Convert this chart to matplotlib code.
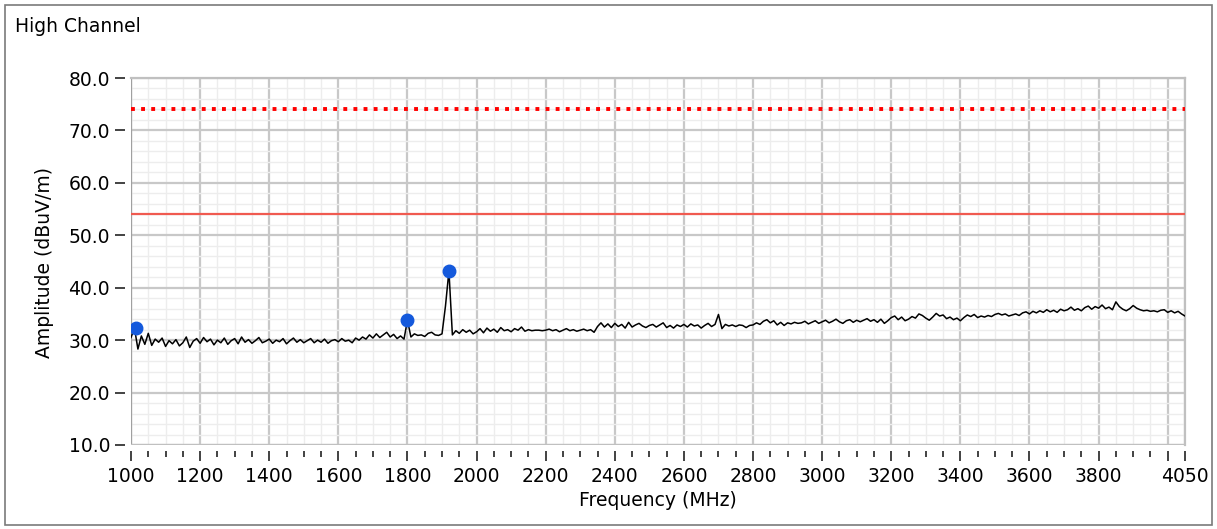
import numpy as np
import matplotlib
matplotlib.use('Agg')
import matplotlib.pyplot as plt
from matplotlib.patches import Rectangle
from matplotlib.ticker import MultipleLocator

# datos (paso de 10 MHz desde 1000 MHz)
freq_start = 1000
freq_step = 10
amp = [
    30.5, 32.3, 28.3, 30.8, 29.2, 31.3, 29.0, 30.2, 29.6, 30.4,
    28.8, 29.9, 29.3, 30.1, 28.9, 29.5, 30.6, 28.6, 29.8, 30.3,
    29.4, 30.5, 29.7, 30.2, 29.1, 30.0, 29.5, 30.4, 29.2, 29.9,
    30.3, 29.3, 30.6, 29.6, 30.1, 29.4, 29.9, 30.5, 29.5, 29.8,
    30.2, 29.4, 30.0, 29.7, 30.3, 29.3, 29.9, 30.4, 29.6, 30.1,
    29.5, 29.9, 30.3, 29.5, 30.0, 29.6, 30.2, 29.4, 29.9, 30.1,
    29.7, 30.3, 29.8, 30.0, 29.5, 30.4, 30.0, 30.6, 30.2, 31.0,
    30.4, 31.2, 30.5, 31.0, 31.5, 30.6, 31.1, 30.3, 30.8, 30.2,
    33.8, 30.6, 31.2, 30.9, 31.0, 30.7, 31.3, 31.5, 31.0, 30.9,
    31.2, 36.5, 43.2, 31.0, 31.8, 31.3, 32.0, 31.5, 31.9, 31.2,
    31.6, 32.2, 31.4, 32.3, 31.7, 32.1, 31.5, 32.4, 31.8, 32.0,
    31.6, 32.2, 31.9, 32.5, 31.7, 32.0, 31.8, 31.9, 31.9, 31.8,
    31.9, 32.1, 31.8, 32.0, 31.6, 31.9, 32.2, 31.8, 32.0, 31.7,
    31.9, 32.1, 31.8, 32.0, 31.5, 32.6, 33.3, 32.5, 33.1, 32.4,
    33.2, 32.6, 33.0, 32.3, 33.4, 32.5, 32.9, 33.2, 32.7, 32.4,
    32.8, 33.0, 32.5, 32.9, 33.3, 32.4, 32.8, 32.3, 32.9, 32.6,
    33.0, 32.5, 33.1, 32.7, 32.9, 32.3, 32.8, 33.2, 32.6, 33.0,
    34.9, 32.2, 33.0, 32.7, 32.9, 32.6, 32.9, 32.8, 32.4, 32.8,
    32.9, 33.3, 33.0, 33.6, 33.9, 33.3, 33.7, 32.9, 33.4, 32.8,
    33.3, 33.1, 33.4, 33.2, 33.3, 33.6, 33.1, 33.4, 33.7, 33.2,
    33.5, 33.8, 33.3, 33.6, 34.0, 33.5, 33.2, 33.7, 33.9, 33.4,
    33.8, 33.5, 33.8, 34.1, 33.6, 33.9, 33.4, 34.0, 33.2, 33.7,
    34.3, 34.6, 33.9, 34.4, 33.7, 34.0, 34.5, 34.2, 35.0, 34.7,
    34.2, 33.8, 34.4, 35.1, 34.6, 34.8, 34.1, 34.4, 33.9, 34.2,
    33.7, 34.3, 34.8, 34.5, 34.9, 34.3, 34.6, 34.4, 34.7, 34.5,
    34.9, 35.1, 34.8, 35.0, 34.6, 34.8, 35.0, 34.7, 35.2, 35.4,
    35.0, 35.5, 35.2, 35.6, 35.3, 35.8, 35.4, 35.7, 35.3, 35.9,
    35.6, 35.8, 36.3, 35.7, 36.0, 35.6, 36.2, 36.5, 35.9, 36.4,
    36.1, 36.7, 36.0, 36.3, 35.8, 37.3, 36.4, 35.9, 35.6, 36.0,
    36.6, 36.1, 35.8, 35.6, 35.7, 35.5, 35.6, 35.4, 35.7, 35.8,
    35.3, 35.6, 35.2, 35.5, 35.0, 34.6,
]
freq = freq_start + freq_step * np.arange(len(amp))

peak_freq = [1015, 1800, 1920]
peak_amp = [32.3, 33.8, 43.2]

limite_pico = 74.0
limite_medio = 54.0

xticks = [1000, 1200, 1400, 1600, 1800, 2000, 2200, 2400, 2600, 2800,
          3000, 3200, 3400, 3600, 3800, 4000, 4050]
xticklabels = ['1000', '1200', '1400', '1600', '1800', '2000', '2200', '2400',
               '2600', '2800', '3000', '3200', '3400', '3600', '3800', '', '4050']
yticks = [10, 20, 30, 40, 50, 60, 70, 80]

fs = 13.5
W, H = 1217, 529
fig = plt.figure(figsize=(W / 100, H / 100), dpi=100)
fig.patch.set_facecolor('white')
# marco exterior
fig.patches.append(Rectangle((5 / W, 4 / H), (1212 - 5) / W, (524 - 4) / H,
                             transform=fig.transFigure, fill=False,
                             edgecolor='#7a7a7a', lw=1.2))
fig.text(15 / W, 1 - 27 / H, 'High Channel', fontsize=fs, va='center', ha='left')

ax = fig.add_axes([131 / W, 1 - 445 / H, (1185 - 131) / W, (445 - 78) / H])
ax.set_xlim(1000, 4050)
ax.set_ylim(10, 80)

ax.set_xticks(xticks)
ax.set_xticklabels(xticklabels)
ax.xaxis.set_minor_locator(MultipleLocator(50))
ax.set_yticks(yticks)
ax.set_yticklabels(['%.1f' % v for v in yticks])
ax.yaxis.set_minor_locator(MultipleLocator(2))

ax.grid(which='major', color='#c8c8c8', lw=1.6, zorder=0)
ax.grid(which='minor', color='#ededed', lw=1.0, zorder=0)
ax.set_axisbelow(True)

for s in ['left', 'bottom']:
    ax.spines[s].set_position(('outward', 4))
    ax.spines[s].set_visible(False)
for s in ['top', 'right']:
    ax.spines[s].set_color('#c0c0c0')
    ax.spines[s].set_linewidth(1.6)
ax.axvline(1000, color='#a0a0a0', lw=1.6, zorder=1)
ax.axhline(10, color='#c0c0c0', lw=1.6, zorder=1)

ax.tick_params(axis='x', which='major', length=7, width=1.2, color='#222222',
               labelsize=fs, pad=5)
ax.tick_params(axis='x', which='minor', length=4, width=1.2, color='#222222')
ax.tick_params(axis='y', which='major', length=7, width=1.2, color='#222222',
               labelsize=fs, pad=4)
ax.tick_params(axis='y', which='minor', length=0)

ax.axhline(limite_pico, color='#ff0000', lw=2.8, linestyle=(0, (1.0, 1.6)),
           dash_capstyle='butt', zorder=3)
ax.axhline(limite_medio, color='#f05a50', lw=1.6, zorder=3)

ax.plot(freq, amp, color='black', lw=1.1, zorder=4)
ax.plot(peak_freq, peak_amp, 'o', color='#1459dc', markersize=9, zorder=5)

ax.set_xlabel('Frequency (MHz)', fontsize=fs)
ax.set_ylabel('Amplitude (dBuV/m)', fontsize=fs)
ax.xaxis.set_label_coords((658 - 131) / 1054, -(500 - 445) / 367)
ax.yaxis.set_label_coords((45 - 131) / 1054, (445 - 262) / 367)
ax.xaxis.label.set_va('center')
ax.yaxis.label.set_va('center')

fig.savefig('out.png', dpi=100)
